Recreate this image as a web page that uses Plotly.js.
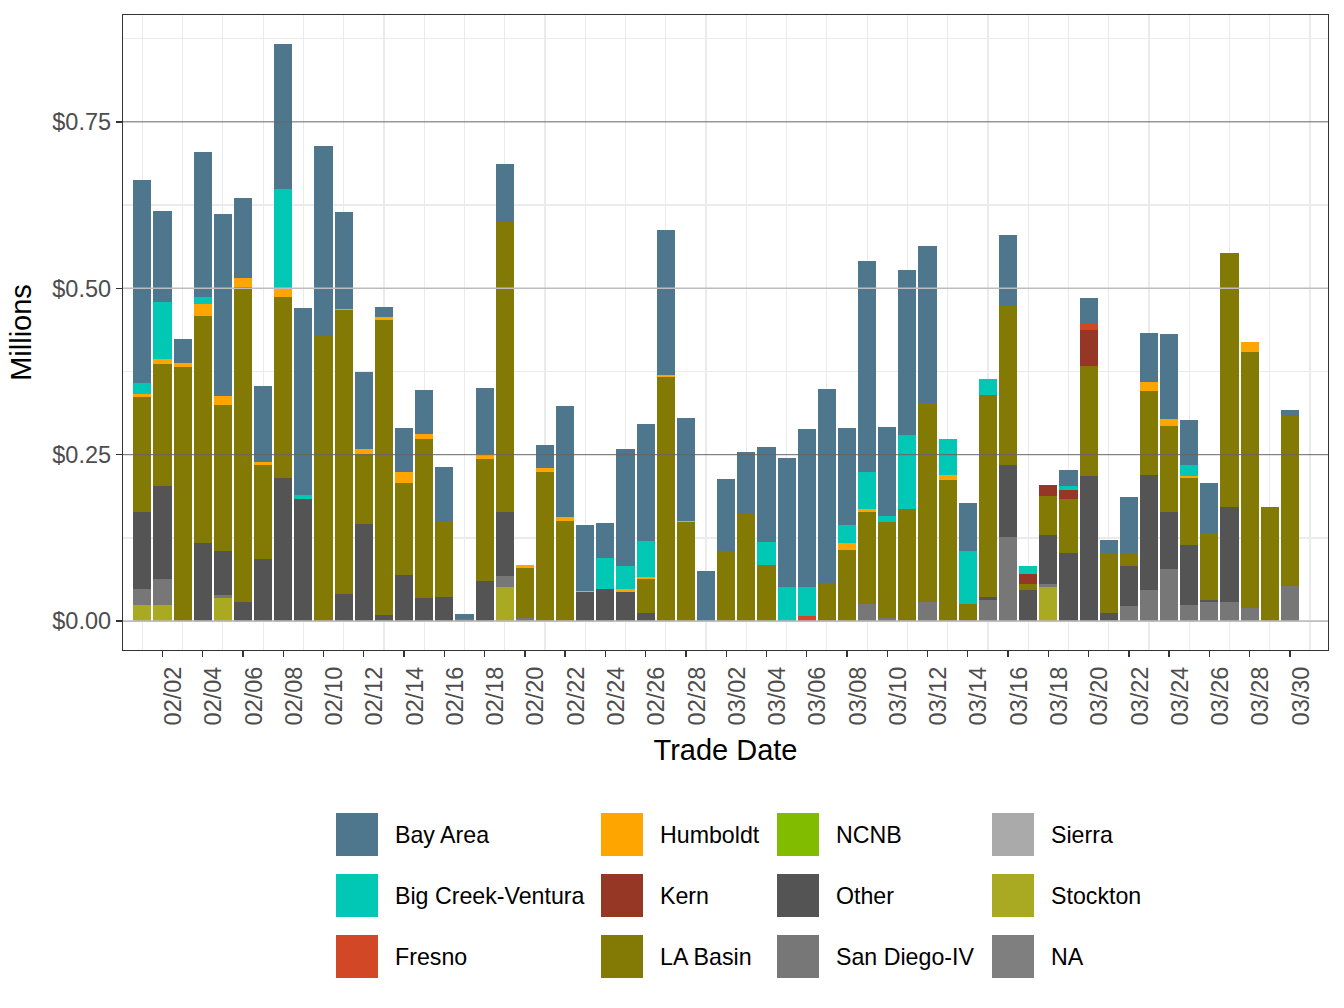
<!DOCTYPE html>
<html>
<head>
<meta charset="utf-8">
<script src="https://cdn.plot.ly/plotly-3.0.1.min.js"></script>
<style>html,body{margin:0;padding:0;background:#fff;} #chart{width:1344px;height:1008px;}</style>
</head>
<body>
<div id="chart"></div>
<script>
// ---- Data (values in millions of dollars) ----
const dates = [
 "2021-02-01","2021-02-02","2021-02-03","2021-02-04","2021-02-05","2021-02-06","2021-02-07","2021-02-08","2021-02-09","2021-02-10",
 "2021-02-11","2021-02-12","2021-02-13","2021-02-14","2021-02-15","2021-02-16","2021-02-17","2021-02-18","2021-02-19","2021-02-20",
 "2021-02-21","2021-02-22","2021-02-23","2021-02-24","2021-02-25","2021-02-26","2021-02-27","2021-02-28","2021-03-01","2021-03-02",
 "2021-03-03","2021-03-04","2021-03-05","2021-03-06","2021-03-07","2021-03-08","2021-03-09","2021-03-10","2021-03-11","2021-03-12",
 "2021-03-13","2021-03-14","2021-03-15","2021-03-16","2021-03-17","2021-03-18","2021-03-19","2021-03-20","2021-03-21","2021-03-22",
 "2021-03-23","2021-03-24","2021-03-25","2021-03-26","2021-03-27","2021-03-28","2021-03-29","2021-03-30"
];

const bayArea = [
 0.305,0.138,0.0356,0.217,0.272,0.120,0.113,0.219,0.282,0.285,
 0.145,0.1155,0.015,0.066,0.0655,0.082,0.007,0.098,0.087,0,
 0.0356,0.1667,0.100,0.054,0.176,0.175,0.218,0.1546,0.0759,0.108,
 0.0925,0.1425,0.1937,0.2385,0.291,0.147,0.3167,0.134,0.2477,0.236,
 0,0.072,0,0.106,0,0,0.024,0.039,0.0195,0.0856,
 0.0736,0.128,0.0678,0.0753,0,0,0,0.0103
];
const bigCreekVentura = [
 0.016,0.0845,0,0.0103,0,0,0,0.149,0.0057,0,
 0,0,0,0,0,0,0,0,0,0,
 0,0,0,0.0454,0.0345,0.054,0,0,0,0,
 0,0.0345,0.0517,0.043,0,0.027,0.0557,0.0092,0.110,0,
 0.054,0.080,0.024,0,0.012,0,0.0046,0,0,0,
 0,0,0.0172,0,0,0,0,0
];
const fresno = [
 0,0,0,0,0,0,0,0,0,0,
 0,0,0,0,0,0,0,0,0,0,
 0,0,0,0,0,0,0,0,0,0,
 0,0,0,0.0075,0,0,0,0,0,0,
 0,0,0,0,0,0,0,0.0092,0,0,
 0,0,0,0,0,0,0,0
];
const humboldt = [
 0.0046,0.0086,0.0063,0.0178,0.0138,0.0138,0.0057,0.012,0,0,
 0.002,0.0075,0.0057,0.0167,0.008,0,0,0.0075,0,0.0046,
 0.0046,0.0057,0.001,0.001,0.0046,0.0035,0.004,0.0017,0,0,
 0,0,0,0,0,0.0092,0.0046,0,0,0,
 0.0075,0,0,0,0,0,0,0,0,0,
 0.0132,0.0103,0.0034,0,0,0.015,0,0
];
const kern = [
 0,0,0,0,0,0,0,0,0,0,
 0,0,0,0,0,0,0,0,0,0,
 0,0,0,0,0,0,0,0,0,0,
 0,0,0,0,0,0,0,0,0,0,
 0,0,0,0,0.016,0.0178,0.015,0.054,0,0,
 0,0,0,0,0,0,0,0
];
const laBasin = [
 0.173,0.182,0.382,0.341,0.2195,0.473,0.140,0.272,0,0.429,
 0.427,0.105,0.442,0.138,0.239,0.113,0,0.183,0.436,0.0753,
 0.2247,0.151,0,0,0,0.052,0.366,0.149,0,0.106,
 0.161,0.085,0,0,0.058,0.1075,0.138,0.144,0.169,0.300,
 0.2126,0.023,0.303,0.240,0.0092,0.0586,0.081,0.1655,0.089,0.018,
 0.1264,0.129,0.0994,0.1017,0.3816,0.386,0.172,0.254
];
const ncnb = [
 0,0,0,0,0,0,0,0,0,0,
 0,0,0,0,0,0,0,0,0,0,
 0,0,0,0,0,0,0,0,0,0,
 0,0,0,0,0,0,0,0,0,0,
 0,0,0,0,0,0,0,0,0,0,
 0,0,0,0,0,0,0,0
];
const other = [
 0.1155,0.140,0,0.118,0.067,0.029,0.094,0.2155,0.183,0,
 0.040,0.1466,0.0098,0.070,0.034,0.0368,0,0.061,0.097,0,
 0,0,0.0437,0.0477,0.044,0.0115,0,0,0,0,
 0,0,0,0,0,0,0,0,0,0,
 0,0,0.0046,0.107,0.046,0.0736,0.1017,0.218,0.0126,0.0615,
 0.174,0.0868,0.0914,0.003,0.1437,0,0,0
];
const sanDiegoIV = [
 0.024,0.039,0,0,0.0046,0,0,0,0,0,
 0,0,0,0,0,0,0.003,0,0.0167,0.005,
 0,0,0,0,0,0,0,0,0,0,
 0,0,0,0,0,0,0.0264,0.005,0,0.028,
 0,0.002,0.032,0.127,0,0.0046,0,0,0,0.022,
 0.046,0.0776,0.0236,0.028,0.028,0.019,0,0.0534
];
const sierra = [
 0,0,0,0,0,0,0,0,0,0,
 0,0,0,0,0,0,0,0,0,0,
 0,0,0,0,0,0,0,0,0,0,
 0,0,0,0,0,0,0,0,0,0,
 0,0,0,0,0,0,0,0,0,0,
 0,0,0,0,0,0,0,0
];
const stockton = [
 0.0247,0.0247,0,0,0.034,0,0,0,0,0,
 0,0,0,0,0,0,0,0,0.0506,0,
 0,0,0,0,0,0,0,0,0,0,
 0,0,0,0,0,0,0,0,0,0,
 0,0,0,0,0,0.0506,0,0,0,0,
 0,0,0,0,0,0,0,0
];
const naRegion = [
 0,0,0,0,0,0,0,0,0,0,
 0,0,0,0,0,0,0,0,0,0,
 0,0,0,0,0,0,0,0,0,0,
 0,0,0,0,0,0,0,0,0,0,
 0,0,0,0,0,0,0,0,0,0,
 0,0,0,0,0,0,0,0
];

const seriesNames  = ["Bay Area","Big Creek-Ventura","Fresno","Humboldt","Kern","LA Basin","NCNB","Other","San Diego-IV","Sierra","Stockton","NA"];
const seriesValues = [bayArea, bigCreekVentura, fresno, humboldt, kern, laBasin, ncnb, other, sanDiegoIV, sierra, stockton, naRegion];
const seriesColors = ["#4E768C","#00C8B4","#D24826","#FFA500","#963624","#837905","#82BC00","#545454","#777777","#AAAAAA","#AAAA22","#7F7F7F"];

const yTickVals  = [0, 0.25, 0.5, 0.75];
const yMinorVals = [0.125, 0.375, 0.625, 0.875];

// ---- Traces: stacked bottom-up in reverse legend order ----
const DAY = 86400000;
const traces = [];
for (let k = seriesNames.length - 1; k >= 0; k--) {
  traces.push({
    type: 'bar', x: dates, y: seriesValues[k], name: seriesNames[k],
    width: 0.9 * DAY,
    marker: {color: seriesColors[k], line: {width: 0}},
    showlegend: false
  });
}

// ---- Geometry helpers (plot area in pixels) ----
const L = 123, R = 16, T = 15, B = 358, W = 1344, H = 1008;
const PW = W - L - R, PH = H - T - B;
const px2x = X => (X - L) / PW;
const px2y = Y => (H - B - Y) / PH;

// horizontal reference lines drawn over the bars
const lineStyle = [
  {color: '#BDBDBD', width: 1.6},
  {color: '#666666', width: 1.0},
  {color: '#BDBDBD', width: 1.6},
  {color: '#666666', width: 1.0}
];
const shapes = yTickVals.map((v, i) => ({
  type: 'line', xref: 'paper', yref: 'y', x0: 0, x1: 1, y0: v, y1: v,
  layer: 'above', line: lineStyle[i]
}));

// custom legend (column-major, 4 columns x 3 rows)
const colX = [336, 601, 777, 992];
const rowY = [813, 874, 935];
const keyW = 42, keyH = 43, textOff = 57;
const annotations = [];
seriesNames.forEach((name, i) => {
  const c = Math.floor(i / 3), r = i % 3;
  const x0 = colX[c], y0 = rowY[r];
  shapes.push({
    type: 'rect', xref: 'paper', yref: 'paper',
    x0: px2x(x0), x1: px2x(x0 + keyW), y0: px2y(y0 + keyH), y1: px2y(y0),
    fillcolor: seriesColors[i], line: {width: 0}
  });
  annotations.push({
    xref: 'paper', yref: 'paper', x: px2x(x0 + textOff), y: px2y(y0 + keyH / 2),
    xanchor: 'left', yanchor: 'middle', showarrow: false, text: name,
    font: {size: 23.2, color: '#000'}
  });
});

const layout = {
  width: W, height: H,
  margin: {l: L, r: R, t: T, b: B, pad: 0},
  paper_bgcolor: '#ffffff', plot_bgcolor: '#ffffff',
  barmode: 'stack', bargap: 0,
  font: {family: 'Liberation Sans, Arial, sans-serif', color: '#000'},
  showlegend: false,
  xaxis: {
    type: 'date',
    range: ['2021-01-31 00:58', '2021-03-31 21:22'],
    tickmode: 'linear', tick0: '2021-02-02', dtick: 2 * DAY,
    tickformat: '%m/%d', tickangle: -90, ticklabelshift: 11,
    ticks: 'outside', ticklen: 6, tickwidth: 1.4, tickcolor: '#333333',
    tickfont: {size: 23.5, color: '#4D4D4D'},
    showgrid: false, zeroline: false,
    showline: true, mirror: true, linecolor: '#333333', linewidth: 1.2,
    minor: {tickmode: 'linear', tick0: '2021-02-01', dtick: 2 * DAY, showgrid: true,
            gridcolor: '#EBEBEB', gridwidth: 1.2, ticks: ''},
    title: {text: 'Trade Date', font: {size: 29, color: '#000'}, standoff: 15},
    automargin: false, fixedrange: true
  },
  yaxis: {
    range: [-0.0434, 0.9105],
    tickmode: 'array', tickvals: yTickVals, tickformat: '$.2f',
    ticks: 'outside', ticklen: 6, tickwidth: 1.4, tickcolor: '#333333',
    tickfont: {size: 23.5, color: '#4D4D4D'},
    showgrid: false, zeroline: false,
    showline: true, mirror: true, linecolor: '#333333', linewidth: 1.2,
    minor: {tickmode: 'array', tickvals: yMinorVals, showgrid: true,
            gridcolor: '#EBEBEB', gridwidth: 1.2, ticks: ''},
    title: {text: 'Millions', font: {size: 29, color: '#000'}, standoff: 12},
    automargin: false, fixedrange: true
  },
  shapes: shapes,
  annotations: annotations
};

Plotly.newPlot('chart', traces, layout, {displayModeBar: false, staticPlot: true});
</script>
</body>
</html>
